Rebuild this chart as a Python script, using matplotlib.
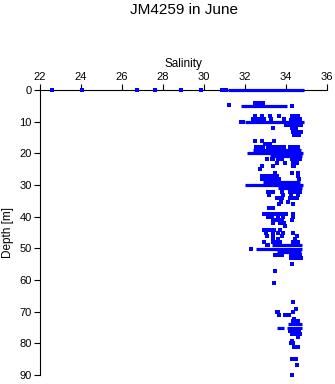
import matplotlib
matplotlib.use("Agg")
import matplotlib.pyplot as plt

plt.rcParams['font.family'] = ['Liberation Sans', 'DejaVu Sans']

title = "JM4259 in June"
x_label = "Salinity"
y_label = "Depth [m]"
x_ticks = [22, 24, 26, 28, 30, 32, 34, 36]
y_ticks = [0, 10, 20, 30, 40, 50, 60, 70, 80, 90]

# dense horizontal runs of samples: depth, salinity start, salinity end
band_depth = [0.0, 5.0, 10.2, 19.0, 20.0, 20.9, 29.2, 30.0, 30.9, 49.1, 50.2, 51.1, 74.0, 75.2, 75.2]
band_smin = [31.17, 31.80, 32.00, 32.40, 32.10, 33.22, 32.88, 32.00, 33.60, 33.30, 32.54, 33.58, 34.11, 33.55, 34.06]
band_smax = [34.88, 34.06, 34.86, 34.73, 34.85, 34.80, 34.68, 34.82, 34.80, 34.80, 34.78, 34.73, 34.76, 33.92, 34.76]

# individual samples, grouped by depth row
row_depth = [0.0, 4.0, 4.8, 5.0, 8.1, 9.0, 9.6, 10.2, 10.9, 12.0, 13.2, 14.3, 16.2, 16.9,
             18.1, 21.9, 23.1, 24.1, 25.0, 26.1, 27.3, 28.2, 32.1, 33.0, 34.2, 35.3,
             36.1, 37.2, 39.2, 40.0, 41.1, 42.0, 42.9, 44.2, 45.3, 46.1, 47.2, 48.1,
             49.1, 50.2, 52.2, 53.1, 55.0, 57.1, 61.0, 67.0, 69.2, 70.1, 71.1, 72.2,
             73.1, 76.1, 77.2, 78.1, 79.2, 80.0, 81.1, 85.0, 86.9, 90.0]
row_salinity = [
    [22.57, 24.06, 26.74, 27.60, 28.90, 29.87, 30.86, 31.05],
    [32.49, 32.57, 32.65, 32.73, 32.82, 32.88],
    [31.20],
    [34.29],
    [32.49, 32.82, 33.22, 33.67, 34.30, 34.40, 34.50, 34.57],
    [32.40, 32.55, 32.65, 32.75, 32.85, 32.95, 33.26, 33.88, 34.28, 34.38, 34.48, 34.58, 34.68],
    [32.45, 32.60, 32.70, 32.80, 34.25, 34.35, 34.45],
    [31.80, 31.88],
    [34.02, 34.12, 34.22, 34.32, 34.42, 34.52, 34.62, 34.72],
    [33.35, 34.28, 34.38, 34.48],
    [34.36, 34.45, 34.55, 34.65, 34.75],
    [34.38, 34.46, 34.54, 34.62],
    [32.49, 32.82, 33.43],
    [32.97, 33.05, 33.14, 33.22],
    [32.54, 32.62, 32.70, 32.90, 33.10, 33.30, 33.50, 33.62, 33.71, 33.90, 34.20, 34.30, 34.40, 34.50, 34.60],
    [33.06, 33.30, 33.38, 33.60, 33.70, 33.80, 34.28, 34.36, 34.44, 34.52, 34.60, 34.68],
    [33.55, 33.95, 34.36, 34.45, 34.55],
    [32.84, 33.35, 34.36, 34.40],
    [32.73],
    [33.46, 34.28, 34.60],
    [32.84, 32.95, 33.06, 33.18, 33.30, 33.42, 33.55, 34.60],
    [32.84, 32.94, 33.05, 33.17, 33.30, 33.42, 33.55, 33.67, 34.63],
    [33.14, 33.22, 33.30, 33.38, 33.79, 34.20, 34.28, 34.36, 34.44, 34.52, 34.60, 34.68],
    [33.19, 33.84, 34.23, 34.60],
    [33.58, 33.66, 33.74, 33.82, 34.20, 34.33, 34.55],
    [33.74, 34.11],
    [33.67, 34.36],
    [33.17, 33.25, 33.35],
    [32.94, 33.02, 33.10, 33.18, 33.26, 33.34, 33.42, 33.50, 33.58, 33.66, 33.74, 33.82, 33.90, 34.00, 34.36],
    [33.14, 33.30, 33.62, 33.87, 34.36],
    [33.38, 33.46, 33.54, 33.62, 33.70, 33.79, 34.28],
    [33.35, 33.71, 33.80, 33.90],
    [33.95],
    [32.94, 33.02, 33.10, 33.22, 33.43, 33.71],
    [33.02, 33.35, 33.60, 33.87, 34.36],
    [33.09, 33.38, 33.79, 34.52],
    [33.35, 33.60, 34.44],
    [32.94, 33.38, 33.50, 33.62, 33.71, 34.36, 34.45, 34.55, 34.60],
    [33.06, 33.14],
    [32.28],
    [33.46, 33.54, 33.62, 33.71, 33.79, 34.23, 34.31, 34.39, 34.47, 34.55, 34.63, 34.70],
    [34.24, 34.32, 34.40, 34.48, 34.56, 34.64, 34.73],
    [34.28],
    [33.46],
    [33.43],
    [34.36],
    [34.47],
    [33.55, 33.62, 34.33],
    [33.67, 33.95, 34.03, 34.11, 34.15],
    [34.40],
    [34.36, 34.44, 34.52, 34.60],
    [34.20, 34.28, 34.36, 34.44, 34.52, 34.60, 34.63],
    [34.28, 34.36, 34.49, 34.68],
    [34.60],
    [34.28],
    [34.24, 34.32],
    [34.40, 34.48, 34.56, 34.60],
    [34.28, 34.36, 34.44, 34.49],
    [34.52],
    [34.31],
]

W, H = 335, 384
fig = plt.figure(figsize=(W / 100, H / 100), dpi=100)
ax = fig.add_axes([40 / W, 1 - 375 / H, (327 - 40) / W, (375 - 90) / H])

blue = '#0000FF'
pt_x, pt_y = [], []
for d, sals in zip(row_depth, row_salinity):
    for s in sals:
        pt_x.append(s)
        pt_y.append(d)

ax.hlines(band_depth, band_smin, band_smax, colors=blue, linewidth=2.3, zorder=3, clip_on=False)
ax.plot(pt_x, pt_y, linestyle='none', marker='s', ms=2.6, mew=0, color=blue, zorder=3, clip_on=False)

ax.set_xlim(22, 36)
ax.set_ylim(90, 0)
ax.set_xticks(x_ticks)
ax.set_yticks(y_ticks)
ax.xaxis.set_ticks_position('top')
ax.xaxis.set_label_position('top')
ax.spines['bottom'].set_visible(False)
ax.spines['right'].set_visible(False)
for sp in ['top', 'left']:
    ax.spines[sp].set_linewidth(0.8)
    ax.spines[sp].set_color('black')
ax.tick_params(direction='out', length=4, width=0.8, labelsize=8, pad=2, colors='black')
ax.set_xlabel(x_label, fontsize=8.5, labelpad=3)
ax.set_ylabel(y_label, fontsize=8.5, labelpad=4)
fig.text(183.5 / W, 1 - 10 / H, title, ha='center', va='center', fontsize=11)

fig.savefig('out.png', dpi=100)
